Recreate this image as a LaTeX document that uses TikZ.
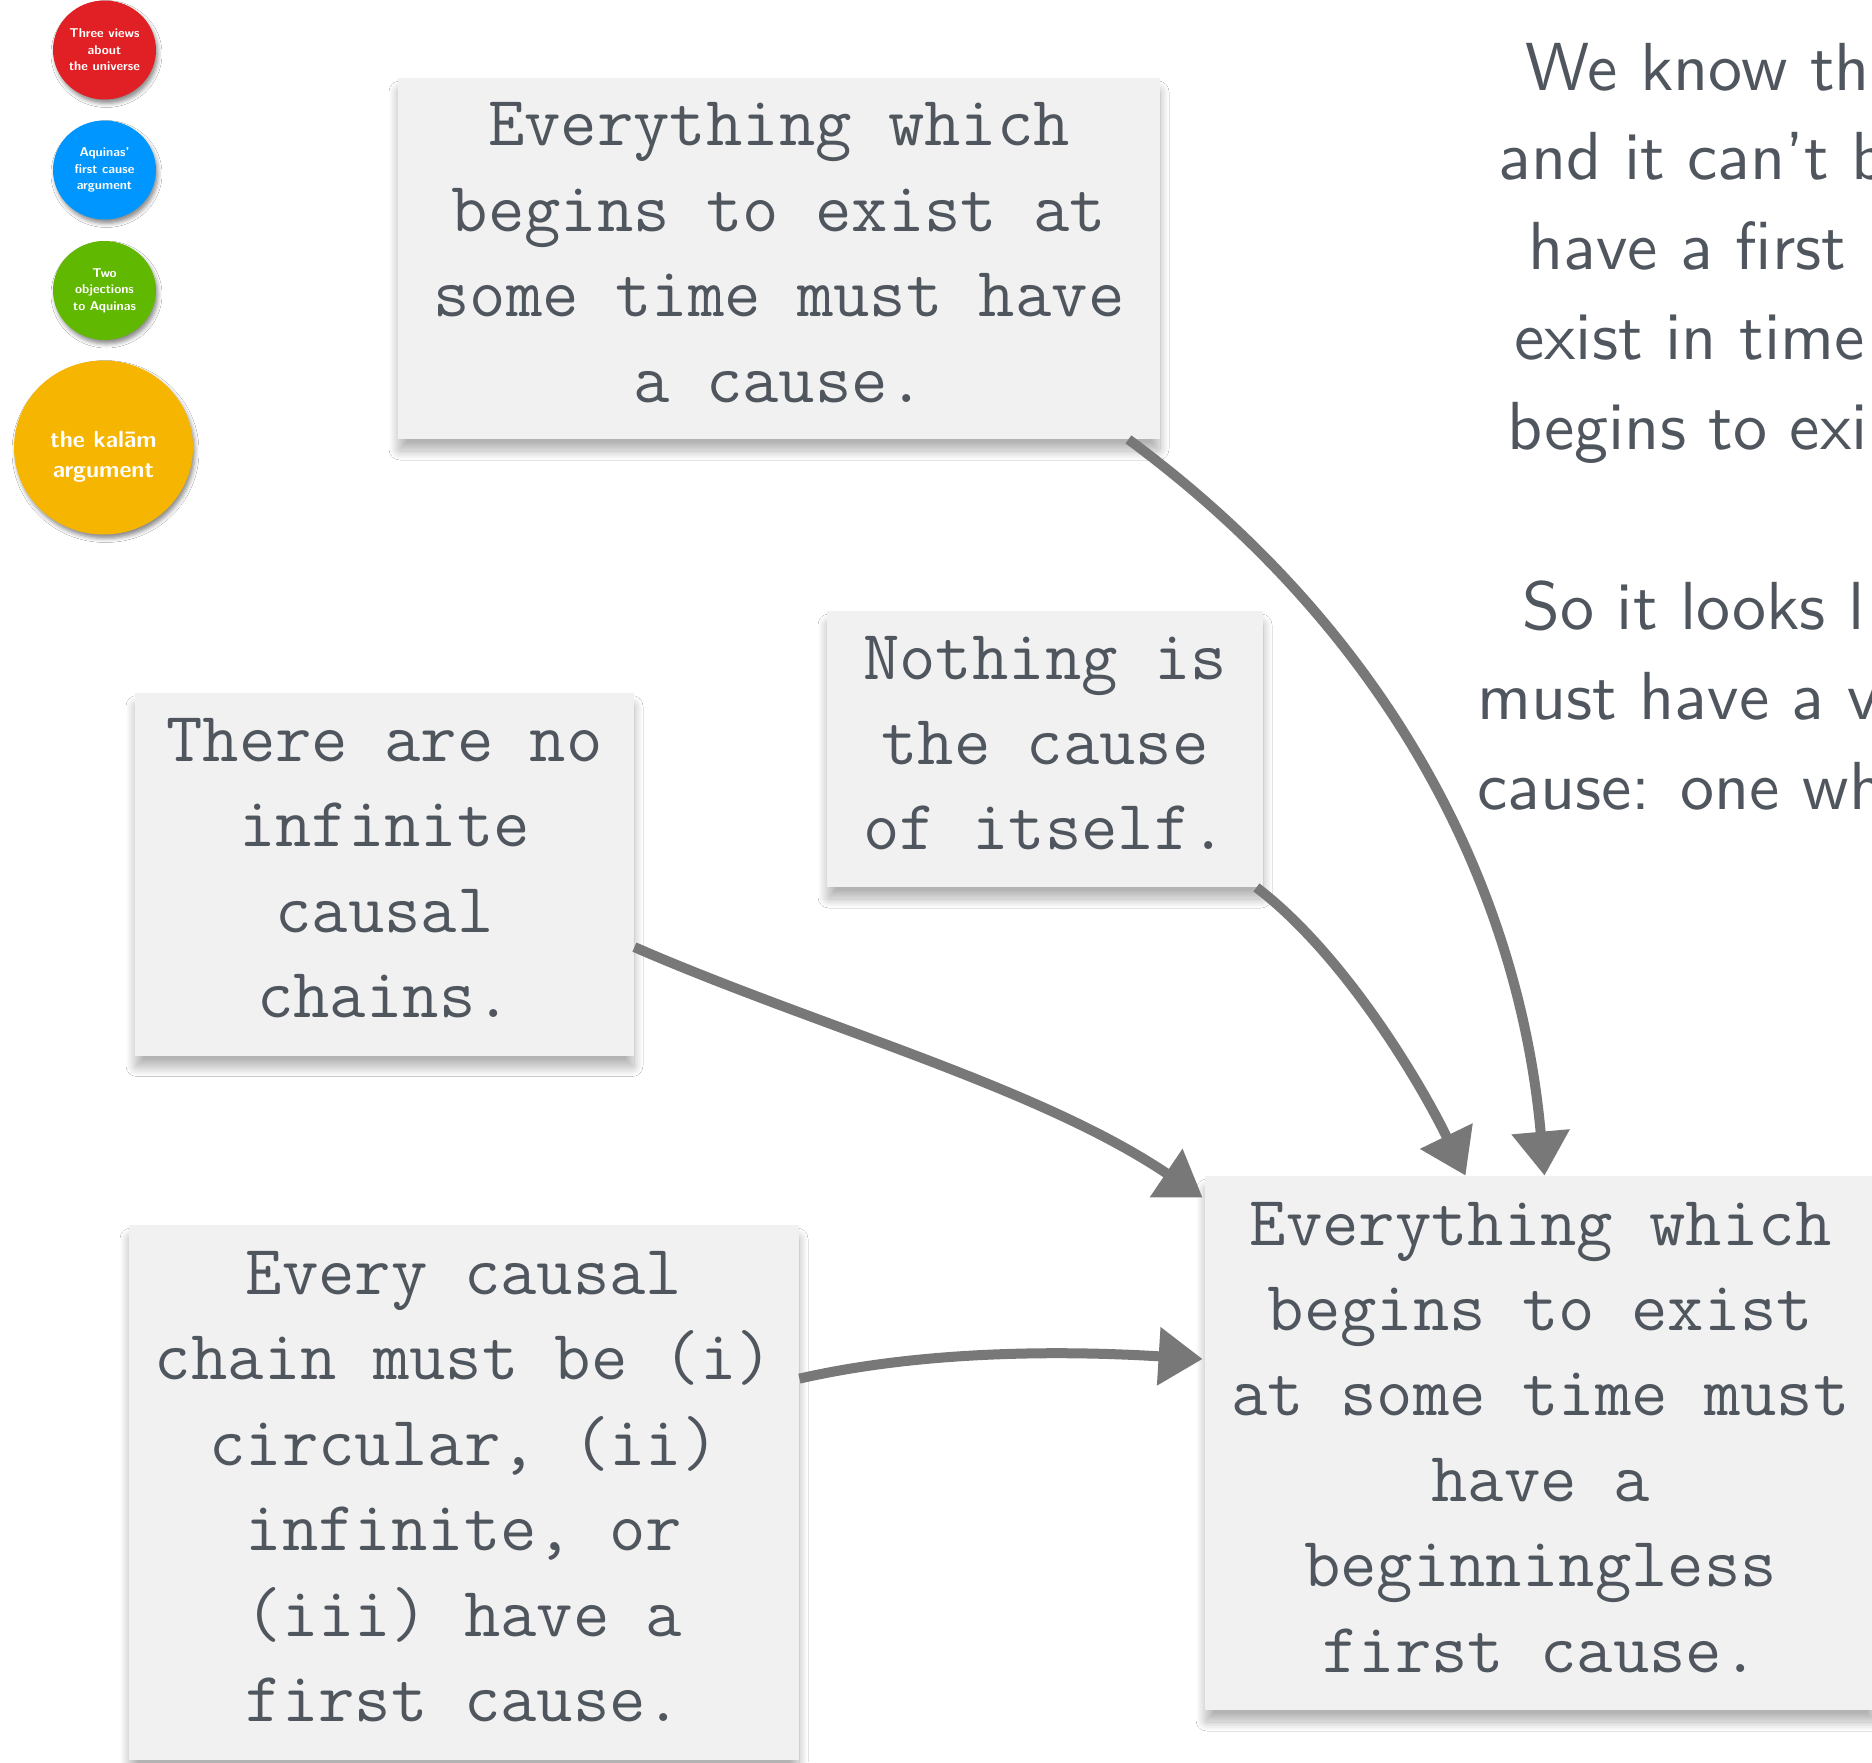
\documentclass[tikz,border=0pt]{standalone}
\usepackage{fontspec}
\usetikzlibrary{shapes.geometric,arrows.meta,calc,shadows.blur}
\newfontfamily\sidefont{lmsans10-regular.otf}
\definecolor{paper}{RGB}{241,241,241}
\definecolor{ink}{RGB}{80,86,94}
\definecolor{arrowgrey}{RGB}{120,120,120}
\definecolor{cred}{RGB}{225,32,37}
\definecolor{cblue}{RGB}{0,150,255}
\definecolor{cgreen}{RGB}{96,184,0}
\definecolor{cyellow}{RGB}{246,181,0}
\newcommand\cardlift{\rule[-6pt]{0pt}{6pt}}
\newcommand\bubbledrop{\rule{0pt}{17pt}}
\tikzset{
  card/.style={fill=paper, text=ink, inner sep=0pt, align=center,
    font=\ttfamily\fontsize{35.3}{42.7}\selectfont,
    blur shadow={shadow xshift=0pt, shadow yshift=-6pt, shadow blur radius=4.5pt,
      shadow blur steps=24, shadow blur extra rounding=1pt, shadow opacity=30}},
  bubble/.style={ellipse, inner sep=0pt, text=white, align=center,
    font=\sffamily\bfseries\fontsize{6.4}{8.3}\selectfont,
    blur shadow={shadow xshift=1pt, shadow yshift=-2pt, shadow blur radius=2pt, shadow opacity=45}},
  sidetext/.style={anchor=base west, inner sep=0pt, text=ink,
    font=\sidefont\fontsize{34}{45}\selectfont},
  conn/.style={draw=arrowgrey, line width=5pt, -{Triangle[length=22pt,width=28pt]}}
}
\begin{document}
\begin{tikzpicture}[x=0.5pt,y=-0.5pt]
\useasboundingbox (0,0) rectangle (1872,1762);
\clip (0,0) rectangle (1872,1762);
\fill[white] (0,0) rectangle (1872,1762);

% navigation bubbles
\node[bubble, fill=cred, minimum width=51.5pt, minimum height=49.5pt] (v1) at (104.5,50) {Three views\\about\\the universe};
\node[bubble, fill=cblue, minimum width=51.5pt, minimum height=49.5pt] (v2) at (104.5,170) {Aquinas’\\first cause\\argument};
\node[bubble, fill=cgreen, minimum width=51.5pt, minimum height=49.5pt] (v3) at (104.5,290.5) {Two\\objections\\to Aquinas};
\node[bubble, fill=cyellow, minimum width=89.5pt, minimum height=87pt,
  font=\sffamily\bfseries\fontsize{11.7}{15}\selectfont] (v4) at (103.5,447.5)
  {\bubbledrop the kalām\\argument};

% cards
\node[card, minimum width=381pt, minimum height=180.5pt] (b1) at (779,258.5)
  {Everything which\\begins to exist at\\some time must have\\a cause.\cardlift};
\node[card, minimum width=218pt, minimum height=138pt] (b2) at (1045,749)
  {Nothing is\\the cause\\of itself.\cardlift};
\node[card, minimum width=249.5pt, minimum height=181.5pt] (b3) at (384.5,874)
  {There are no\\infinite\\causal\\chains.\cardlift};
\node[card, minimum width=335pt, minimum height=267.5pt] (b4) at (464,1492.5)
  {Every causal\\chain must be (i)\\circular, (ii)\\infinite, or\\(iii) have a\\first cause.\cardlift};
\node[card, minimum width=335.5pt, minimum height=267pt] (b5) at (1540.5,1443)
  {Everything which\\begins to exist\\at some time must\\have a\\beginningless\\first cause.\cardlift};

% side text (cut off at the right edge, as in the reference)
\node[sidetext] (t1) at (1525,90) {We know th};
\node[sidetext] (t2) at (1498,179.5) {and it can’t b};
\node[sidetext] (t3) at (1528,269) {have a first};
\node[sidetext] (t4) at (1514,359) {exist in time};
\node[sidetext] (t5) at (1507,449) {begins to exi};
\node[sidetext] (t6) at (1522,629) {So it looks l};
\node[sidetext] (t7) at (1477,719) {must have a v};
\node[sidetext] (t8) at (1477,809) {cause: one wh};

% connectors
\draw[conn] ($(b1.south east)+(-32,0)$) .. controls (1400,640) and (1520,900) .. ($(b5.north)+(4,0)$);
\draw[conn] ($(b2.south east)+(-7,0)$) .. controls (1345,955) and (1421,1084) .. ($(b5.north)+(-75,0)$);
\draw[conn] ($(b3.north east)+(0,255)$) .. controls (818,1027) and (1037,1086) .. ($(b5.north west)+(-2,22)$);
\draw[conn] ($(b4.north east)+(0,154)$) .. controls (929,1349) and (1073,1351) .. ($(b5.west)+(-2,-84)$);
\end{tikzpicture}
\end{document}
